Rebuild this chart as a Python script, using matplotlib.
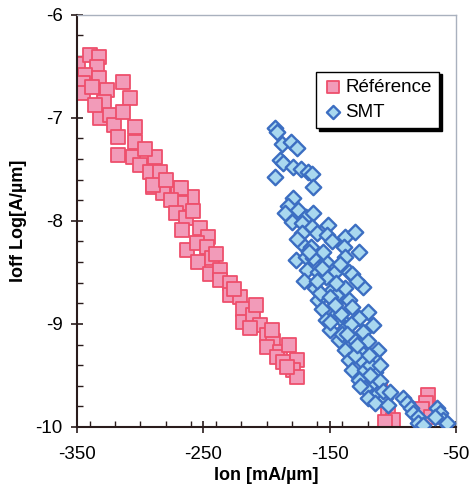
import matplotlib
matplotlib.use("Agg")
import matplotlib.pyplot as plt
from matplotlib.ticker import MultipleLocator

plt.rcParams['font.family'] = ['Liberation Sans', 'DejaVu Sans']
plt.rcParams['axes.unicode_minus'] = False

# Reference devices: Ion [mA/um] vs log10(Ioff)
ref_ion = [-349, -340, -333, -334, -344, -345, -345, -333, -326, -314,
           -308, -329, -332, -324, -321, -314, -304, -318, -304, -318,
           -306, -300, -288, -292, -284, -290, -282, -270, -259, -268,
           -290, -268, -276, -272, -264, -267, -253, -246, -263, -255,
           -247, -254, -243, -245, -237, -237, -229, -229, -221, -219,
           -219, -211, -205, -213, -200, -195, -200, -189, -192, -187,
           -176, -179, -176, -184, -338, -336, -296, -280, -258, -240,
           -226, -208, -196, -182,
           -110, -106, -104, -100, -106, -72, -74, -77, -70]
ref_ioff = [-6.48, -6.39, -6.41, -6.51, -6.58, -6.66, -6.76, -6.61, -6.73, -6.65,
            -6.81, -6.85, -7.00, -6.97, -7.07, -6.94, -7.09, -7.19, -7.23, -7.36,
            -7.38, -7.46, -7.38, -7.53, -7.53, -7.67, -7.73, -7.68, -7.77, -7.83,
            -7.65, -7.68, -7.80, -7.92, -7.97, -8.09, -8.07, -8.16, -8.28, -8.21,
            -8.25, -8.40, -8.36, -8.52, -8.48, -8.57, -8.60, -8.72, -8.74, -8.86,
            -8.98, -8.91, -9.01, -9.04, -9.11, -9.17, -9.22, -9.27, -9.32, -9.37,
            -9.35, -9.45, -9.52, -9.42, -6.70, -6.88, -7.30, -7.60, -7.90, -8.32,
            -8.66, -8.82, -9.06, -9.20,
            -9.62, -9.74, -9.86, -9.93, -9.95, -9.69, -9.77, -9.83, -9.90]

# SMT devices
smt_ion = [-193, -192, -188, -181, -176, -189, -187, -193, -179, -173,
           -167, -164, -163, -179, -183, -185, -175, -169, -163, -180,
           -172, -164, -151, -172, -160, -152, -138, -130, -173, -165,
           -148, -139, -127, -177, -169, -163, -153, -138, -168, -159,
           -146, -135, -153, -132, -162, -148, -138, -124, -159, -146,
           -135, -156, -144, -132, -120, -153, -140, -127, -116, -150,
           -138, -124, -143, -132, -120, -112, -138, -127, -135, -124,
           -116, -132, -122, -114, -127, -116, -122, -112, -120, -106,
           -114, -104, -92, -89, -86, -84, -80, -80, -76, -65,
           -63, -60, -57, -67, -155, -142, -128, -170, -158, -145,
           -150, -140, -130, -118, -110, -126, -118, -108,
           -176, -166, -156, -145, -160, -150, -141, -133, -146, -136,
           -128, -119, -110, -102]
smt_ioff = [-7.10, -7.14, -7.25, -7.23, -7.29, -7.41, -7.44, -7.57, -7.48, -7.50,
            -7.53, -7.55, -7.67, -7.78, -7.86, -7.92, -7.89, -7.96, -7.92, -8.01,
            -8.02, -8.06, -8.04, -8.12, -8.12, -8.14, -8.16, -8.11, -8.21, -8.25,
            -8.20, -8.25, -8.30, -8.38, -8.35, -8.36, -8.40, -8.35, -8.48, -8.50,
            -8.50, -8.50, -8.54, -8.52, -8.65, -8.67, -8.65, -8.64, -8.77, -8.79,
            -8.77, -8.86, -8.89, -8.84, -8.88, -8.96, -8.96, -8.94, -9.01, -9.06,
            -9.04, -9.08, -9.16, -9.14, -9.17, -9.25, -9.25, -9.25, -9.35, -9.37,
            -9.33, -9.45, -9.45, -9.47, -9.54, -9.57, -9.62, -9.67, -9.72, -9.72,
            -9.77, -9.79, -9.72, -9.77, -9.82, -9.86, -9.90, -9.96, -9.98, -9.82,
            -9.86, -9.93, -9.96, -9.90, -8.30, -8.42, -8.58, -8.58, -8.70, -8.72,
            -8.98, -9.10, -9.30, -9.40, -9.55, -9.60, -9.50, -9.65,
            -8.18, -8.30, -8.46, -8.60, -8.58, -8.74, -8.90, -9.00, -8.82, -9.10,
            -9.20, -9.30, -9.40, -9.66]

fig = plt.figure(figsize=(4.73, 4.93), dpi=100)
ax = fig.add_axes([0.163, 0.134, 0.801, 0.836])

ax.scatter(ref_ion, ref_ioff, marker='s', s=105, facecolor='#f29bb9',
           edgecolor='#ee4f6c', linewidth=1.3, label='Référence', zorder=2)
ax.scatter(smt_ion, smt_ioff, marker='D', s=62, facecolor='#a9d8ef',
           edgecolor='#3c6ec2', linewidth=1.7, label='SMT', zorder=3)

ax.set_xlim(-350, -50)
ax.set_ylim(-10, -6)
ax.set_xticks([-350, -250, -150, -50])
ax.set_yticks([-10, -9, -8, -7, -6])
ax.xaxis.set_minor_locator(MultipleLocator(20))
ax.yaxis.set_minor_locator(MultipleLocator(0.2))

ax.tick_params(which='major', direction='inout', length=9, width=1.2,
               color='#2a1c1c', labelsize=13.5, pad=6)
ax.tick_params(which='minor', direction='in', length=4, width=1.0,
               color='#2a1c1c')
ax.tick_params(axis='x', which='major', pad=9)

for side in ('left', 'bottom'):
    ax.spines[side].set_color('#2a1c1c')
    ax.spines[side].set_linewidth(1.5)
for side in ('top', 'right'):
    ax.spines[side].set_color('#a9b1be')
    ax.spines[side].set_linewidth(1.0)

ax.set_xlabel('Ion [mA/µm]', fontsize=13, fontweight='bold', labelpad=3)
ax.set_ylabel('Ioff Log[A/µm]', fontsize=13, fontweight='bold', labelpad=6)

leg = ax.legend(loc='upper right', bbox_to_anchor=(0.955, 0.862),
                borderaxespad=0, fontsize=13.5, frameon=True, fancybox=False,
                shadow={'color': 'black', 'alpha': 1}, handletextpad=0.15,
                handlelength=1.0, borderpad=0.4, labelspacing=0.4,
                markerscale=0.85)
leg.get_frame().set_edgecolor('black')
leg.get_frame().set_linewidth(1.0)

fig.savefig('out.png', dpi=100)
